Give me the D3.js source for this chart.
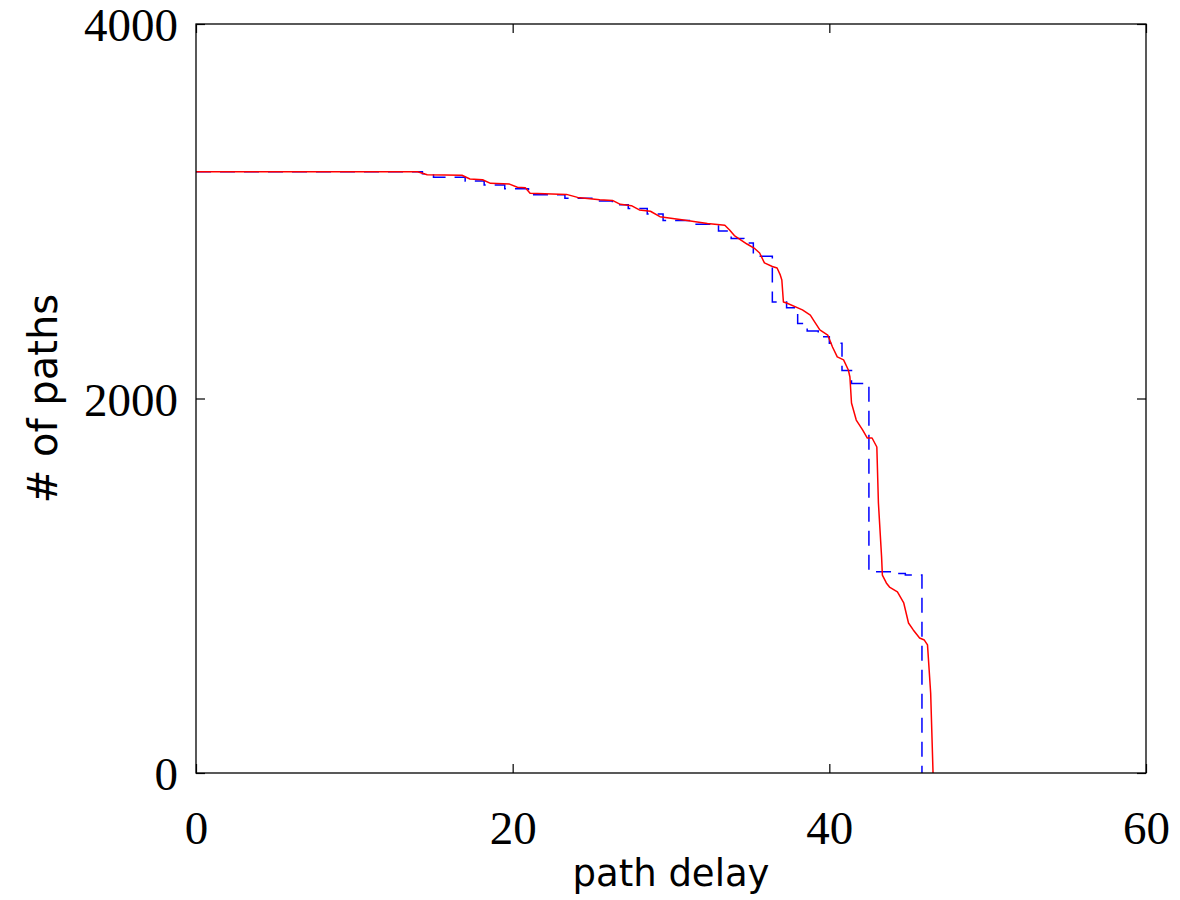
<!DOCTYPE html>
<html>
<head>
<meta charset="utf-8">
<script src="https://cdn.jsdelivr.net/npm/d3@7"></script>
<style>
  html, body { margin: 0; padding: 0; background: #fff; }
  svg { display: block; }
</style>
</head>
<body>
<svg id="chart" width="1180" height="900"></svg>
<script>
// ---- data ----
const xTicks = [0, 20, 40, 60];
const yTicks = [0, 2000, 4000];
const xLabel = "path delay";
const yLabel = "# of paths";

// red solid curve
const redDelay = [0, 14.0, 14.6, 16.8, 17.3, 18.1, 18.6, 19.8, 20.3, 20.8, 21.1, 23.4, 24.1, 25.5, 26.3, 26.8, 27.5, 28.0, 28.7, 29.3, 30.8, 32.3, 33.4, 33.7, 34.0, 34.8, 35.3, 35.6, 35.9, 36.4, 36.7, 36.9, 37.0, 37.1, 37.3, 38.3, 38.8, 39.0, 39.4, 39.9, 40.2, 40.5, 40.9, 41.2, 41.3, 41.4, 41.7, 42.1, 42.4, 42.7, 43.0, 43.1, 43.3, 43.35, 43.6, 43.8, 44.3, 44.7, 45.0, 45.3, 45.7, 46.0, 46.2, 46.4, 46.55];
const redPaths = [3211, 3211, 3195, 3192, 3172, 3168, 3149, 3145, 3128, 3125, 3096, 3090, 3074, 3062, 3058, 3037, 3030, 3007, 3000, 2971, 2953, 2935, 2925, 2900, 2870, 2825, 2800, 2777, 2724, 2705, 2697, 2660, 2633, 2515, 2510, 2473, 2445, 2419, 2366, 2339, 2275, 2222, 2206, 2152, 2115, 1976, 1885, 1832, 1789, 1789, 1741, 1442, 1154, 1057, 1015, 993, 967, 908, 801, 764, 721, 710, 684, 427, 0];

// blue dashed step curve (value holds until next delay)
const blueDelay = [0, 14.3, 15.0, 17.0, 18.2, 19.5, 21.0, 23.3, 25.0, 26.3, 27.3, 28.5, 29.5, 31.3, 33.0, 33.8, 34.6, 35.2, 36.4, 37.3, 38.0, 38.6, 39.3, 40.0, 40.8, 41.4, 42.5, 44.0, 44.8, 45.85];
const bluePaths = [3211, 3200, 3182, 3162, 3140, 3120, 3088, 3070, 3055, 3035, 3015, 2985, 2950, 2930, 2895, 2855, 2830, 2760, 2515, 2485, 2400, 2360, 2330, 2295, 2150, 2080, 1075, 1065, 1058, 0];

// ---- layout ----
const svg = d3.select("#chart");
const L = 196, T = 24, W = 950, H = 749;
const x = d3.scaleLinear().domain([0, 60]).range([L, L + W]);
const y = d3.scaleLinear().domain([0, 4000]).range([T + H, T]);

const serif = "'Liberation Serif', 'DejaVu Serif', serif";
const sans = "'DejaVu Sans', 'Liberation Sans', sans-serif";

const g = svg.append("g");

svg.append("clipPath").attr("id", "clip")
  .append("rect").attr("x", L).attr("y", T).attr("width", W).attr("height", H);

const blueData = blueDelay.map((d, i) => [d, bluePaths[i]]);
const redData = redDelay.map((d, i) => [d, redPaths[i]]);

g.append("path")
  .datum(blueData)
  .attr("clip-path", "url(#clip)")
  .attr("fill", "none")
  .attr("stroke", "#0000ff")
  .attr("stroke-width", 1.5)
  .attr("stroke-dasharray", "15,9")
  .attr("d", d3.line().x(d => x(d[0])).y(d => y(d[1])).curve(d3.curveStepAfter));

g.append("path")
  .datum(redData)
  .attr("clip-path", "url(#clip)")
  .attr("fill", "none")
  .attr("stroke", "#ff0000")
  .attr("stroke-width", 1.5)
  .attr("stroke-linejoin", "round")
  .attr("d", d3.line().x(d => x(d[0])).y(d => y(d[1])));

// axes with inward ticks, mirrored
const tl = 9;
const axB = d3.axisBottom(x).tickValues(xTicks).tickSize(-tl).tickPadding(26).tickFormat(d3.format("d"));
const axT = d3.axisTop(x).tickValues(xTicks).tickSize(-tl).tickFormat("");
const axL = d3.axisLeft(y).tickValues(yTicks).tickSize(-tl).tickPadding(18).tickFormat(d3.format("d"));
const axR = d3.axisRight(y).tickValues(yTicks).tickSize(-tl).tickFormat("");

function style(sel) {
  sel.selectAll(".tick line").attr("stroke", "#000").attr("stroke-width", 1.2);
  sel.selectAll(".tick text").attr("fill", "#000").attr("font-family", serif).attr("font-size", 47);
}
g.append("g").attr("transform", `translate(0,${T + H})`).call(axB).call(style)
  .selectAll(".tick text").attr("dy", "0.95em");
g.append("g").attr("transform", `translate(0,${T})`).call(axT).call(style);
g.append("g").attr("transform", `translate(${L},0)`).call(axL).call(style)
  .selectAll(".tick text").attr("dy", "0.36em");
g.append("g").attr("transform", `translate(${L + W},0)`).call(axR).call(style);

g.selectAll("path.domain").remove();
g.append("rect").attr("x", L).attr("y", T).attr("width", W).attr("height", H)
  .attr("fill", "none").attr("stroke", "#000").attr("stroke-width", 1.3);

// axis labels
svg.append("text")
  .attr("x", L + W / 2).attr("y", 886)
  .attr("text-anchor", "middle")
  .attr("font-family", sans).attr("font-size", 37).attr("fill", "#000")
  .text(xLabel);

svg.append("text")
  .attr("transform", `translate(57,${T + H / 2}) rotate(-90)`)
  .attr("text-anchor", "middle")
  .attr("font-family", sans).attr("font-size", 40).attr("fill", "#000")
  .text(yLabel);
</script>
</body>
</html>
